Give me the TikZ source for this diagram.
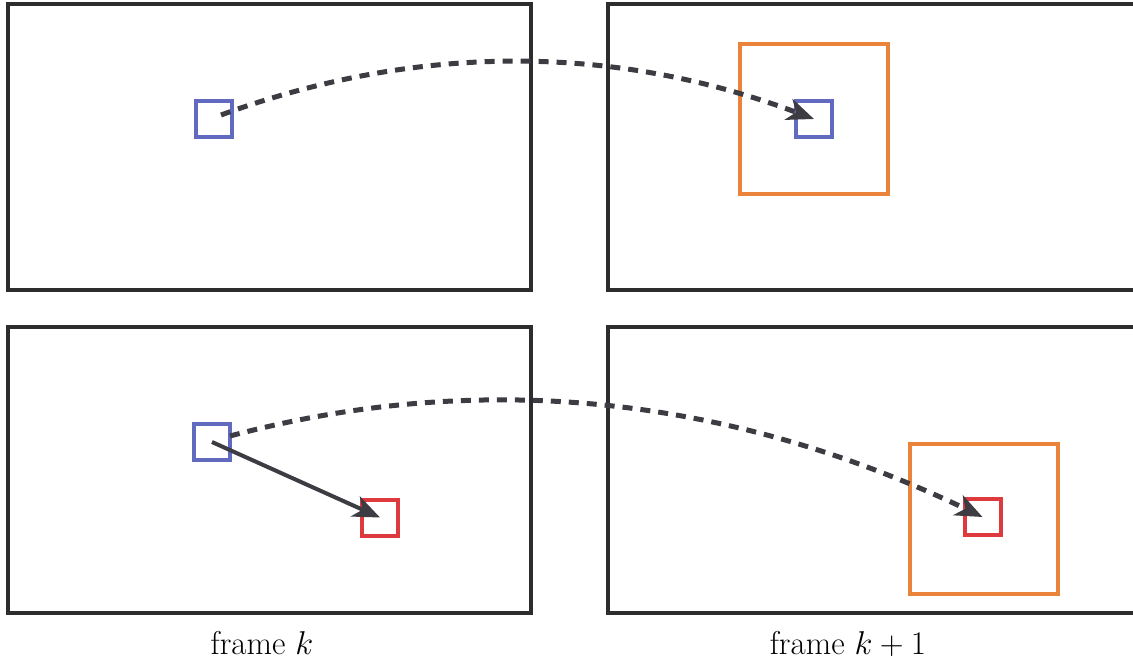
\RequirePackage{fix-cm}
\documentclass[tikz,border=0pt]{standalone}
\usetikzlibrary{arrows.meta}
\definecolor{framecol}{RGB}{45,45,45}
\definecolor{arrowcol}{RGB}{60,60,66}
\definecolor{bluebox}{RGB}{98,106,192}
\definecolor{redbox}{RGB}{222,58,62}
\definecolor{orangebox}{RGB}{234,132,58}
\DeclareMathSizes{33}{33}{24}{18}
\tikzset{
  framebox/.style={draw=framecol,line width=4pt},
  sq/.style={draw=#1,line width=4pt,rectangle,inner sep=0pt,minimum size=36pt},
  bigsq/.style={draw=orangebox,line width=4pt,rectangle,inner sep=0pt,minimum width=148pt,minimum height=150pt},
  dasharrow/.style={draw=arrowcol,line width=5pt,dash pattern=on 10pt off 8pt,-{Stealth[length=27pt,width=22pt,inset=8pt]}},
  solidarrow/.style={draw=arrowcol,line width=4pt,-{Stealth[length=27pt,width=22pt,inset=8pt]}},
  lbl/.style={font=\fontsize{33}{40}\selectfont,inner sep=0pt,anchor=base}
}
\begin{document}
\begin{tikzpicture}[x=1pt,y=-1pt]
\useasboundingbox (0,0) rectangle (1133,659);
\clip (0,0) rectangle (1133,659);
% frames
\draw[framebox] (8,4) rectangle (531,290);
\draw[framebox] (608,4) rectangle (1145,290);
\draw[framebox] (8,327) rectangle (531,613);
\draw[framebox] (608,327) rectangle (1145,613);
% top row
\node[bigsq] (o1) at (814,119) {};
\node[sq=bluebox] (b1) at (213.5,118.5) {};
\node[sq=bluebox] (b2) at (814,119) {};
\coordinate (s1) at (221,115);
\draw[dasharrow] (s1) .. controls (418,43) and (615,44) .. (b2.center);
% bottom row
\node[bigsq] (o2) at (983.5,518.5) {};
\node[sq=bluebox] (b3) at (212,442) {};
\node[sq=redbox] (r1) at (380,517.5) {};
\node[sq=redbox] (r2) at (982.5,517) {};
\coordinate (s2) at (230,436);
\draw[dasharrow] (s2) .. controls (481,369) and (731,396) .. (r2.center);
\draw[solidarrow] (b3.center) -- (r1.center);
% labels
\node[lbl] (l1) at (262,654) {frame $k$};
\node[lbl] (l2) at (848,654) {frame $k+1$};
\end{tikzpicture}
\end{document}
